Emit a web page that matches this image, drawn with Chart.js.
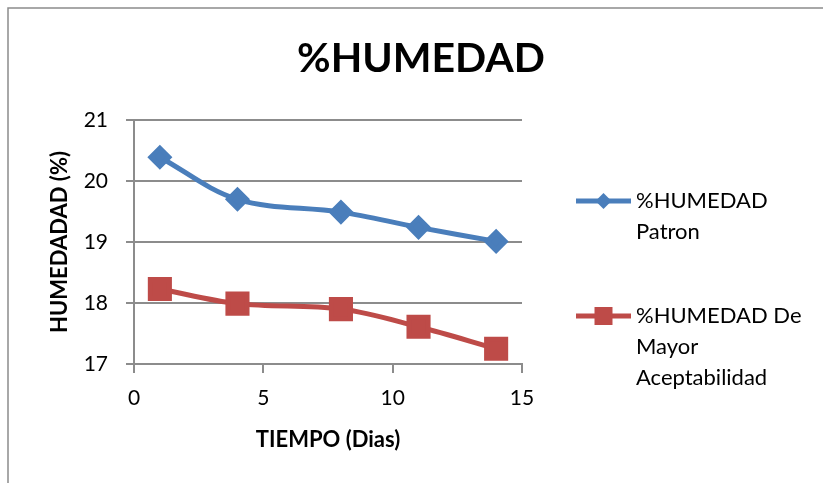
<!DOCTYPE html>
<html lang="es">
<head>
  <meta charset="UTF-8">
  <title>%HUMEDAD</title>
  <script src="https://cdn.jsdelivr.net/npm/chart.js"></script>
  <style>
    body { margin: 0; background: #fff; }
  </style>
</head>
<body>
  <canvas id="grafico" width="823" height="483"></canvas>

  <script>
    const dias = [1, 4, 8, 11, 14];
    const humedadPatron = [20.39, 19.70, 19.49, 19.24, 19.01];
    const humedadAceptable = [18.23, 17.99, 17.90, 17.61, 17.25];
    const nombres = ['%HUMEDAD Patron', '%HUMEDAD De Mayor Aceptabilidad'];
    const lineasLeyenda = [['%HUMEDAD', 'Patron'], ['%HUMEDAD De', 'Mayor', 'Aceptabilidad']];
    const titulo = '%HUMEDAD';

    const AZUL = '#4A7EBB', ROJO = '#BE4B48', GRIS = '#8c8c8c';
    const FUENTE = 'Lato, "Open Sans", sans-serif';

    const puntos = (ys) => dias.map((x, i) => ({ x: x, y: ys[i] }));

    // marco gris (solo lados izquierdo y superior visibles) + titulo centrado en todo el grafico
    const marco = {
      id: 'marco',
      afterDraw(chart) {
        const c = chart.ctx;
        c.save();
        c.strokeStyle = GRIS;
        c.lineWidth = 1.5;
        c.beginPath();
        c.moveTo(8, chart.height);
        c.lineTo(8, 8);
        c.lineTo(chart.width, 8);
        c.stroke();
        c.fillStyle = '#000';
        c.font = 'bold 41px ' + FUENTE;
        c.textAlign = 'center';
        c.textBaseline = 'middle';
        c.fillText(titulo, 421, 59);
        c.restore();
      }
    };

    // leyenda a la derecha, con texto en varias lineas
    const leyenda = {
      id: 'leyenda',
      afterDraw(chart) {
        const c = chart.ctx;
        const filas = [201, 316];
        c.save();
        chart.data.datasets.forEach((ds, i) => {
          const y = filas[i];
          c.strokeStyle = ds.borderColor;
          c.lineWidth = 5;
          c.beginPath();
          c.moveTo(576, y);
          c.lineTo(631, y);
          c.stroke();
          c.fillStyle = ds.backgroundColor;
          c.beginPath();
          if (ds.pointStyle === 'rectRot') {
            const r = 8;
            c.moveTo(603.5, y - r); c.lineTo(603.5 + r, y);
            c.lineTo(603.5, y + r); c.lineTo(603.5 - r, y);
            c.closePath();
          } else {
            c.rect(603.5 - 9, y - 9, 18, 18);
          }
          c.fill();
          c.fillStyle = '#000';
          c.font = '22px ' + FUENTE;
          c.textBaseline = 'middle';
          c.textAlign = 'left';
          lineasLeyenda[i].forEach((t, j) => c.fillText(t, 636, y + j * 31));
        });
        c.restore();
      }
    };

    const ctx = document.getElementById('grafico').getContext('2d');
    const grafico = new Chart(ctx, {
      type: 'line',
      data: {
        datasets: [
          { label: nombres[0], data: puntos(humedadPatron), borderColor: AZUL, backgroundColor: AZUL,
            borderWidth: 5, pointStyle: 'rectRot', pointRadius: 9, pointHoverRadius: 9, tension: 0.35 },
          { label: nombres[1], data: puntos(humedadAceptable), borderColor: ROJO, backgroundColor: ROJO,
            borderWidth: 5, pointStyle: 'rect', pointRadius: 13.5, pointHoverRadius: 13.5, tension: 0.35 }
        ]
      },
      options: {
        responsive: false,
        animation: false,
        layout: { padding: { left: 43, right: 301, top: 120, bottom: 26 } },
        plugins: {
          legend: { display: false },
          tooltip: { enabled: false },
          title: { display: false }
        },
        scales: {
          x: {
            type: 'linear',
            min: 0, max: 15,
            ticks: { stepSize: 5, color: '#000', padding: 13, font: { family: FUENTE, size: 21 } },
            grid: { drawOnChartArea: false, drawTicks: true, tickLength: 9, color: GRIS, lineWidth: 2 },
            border: { color: GRIS, width: 2 },
            title: { display: true, text: 'TIEMPO (Dias)', color: '#000', font: { family: FUENTE, size: 22, weight: 'bold' } },
            afterFit(s) { s.height = 93; }
          },
          y: {
            min: 17, max: 21,
            ticks: { stepSize: 1, color: '#000', padding: 18, font: { family: FUENTE, size: 21 } },
            grid: { color: GRIS, lineWidth: 2, drawTicks: true, tickLength: 8 },
            border: { color: GRIS, width: 2 },
            title: { display: true, text: 'HUMEDADAD (%)', color: '#000', font: { family: FUENTE, size: 22, weight: 'bold' } },
            afterFit(s) { s.width = 91; }
          }
        }
      },
      plugins: [marco, leyenda]
    });
  </script>
</body>
</html>
